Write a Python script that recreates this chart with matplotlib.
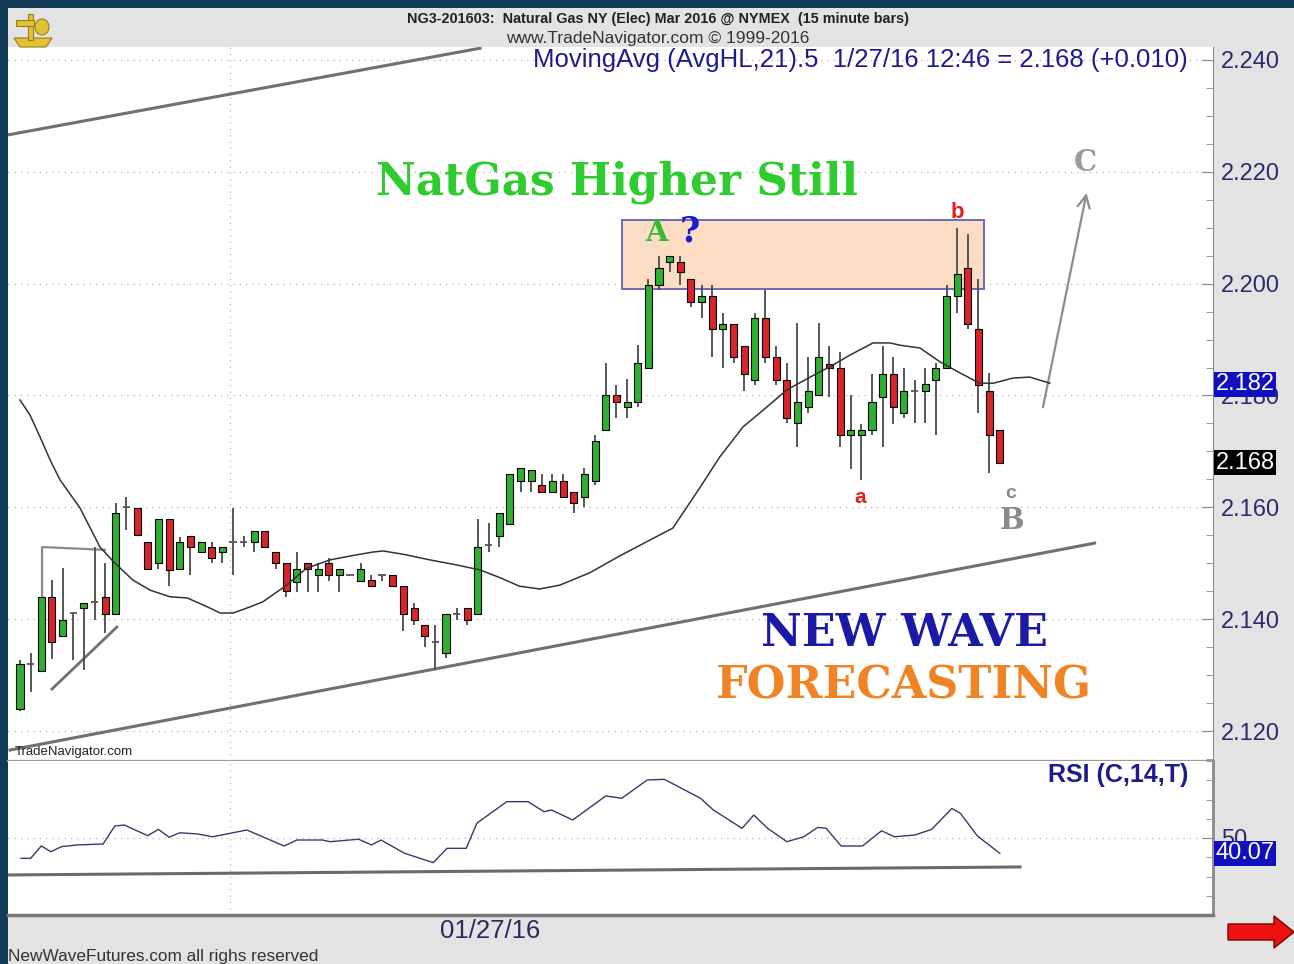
import matplotlib
matplotlib.use("Agg")
import matplotlib.pyplot as plt
import matplotlib.transforms as mtransforms
from matplotlib.patches import Rectangle, Polygon, Ellipse
from matplotlib.ticker import FixedLocator, MultipleLocator
import numpy as np

W, H = 1294, 964

# ---- 15 minute bars, NG Mar 2016 ----
opens = [2.1239, 2.1320, 2.1307, 2.1440, 2.1370, 2.1411, 2.1420, 2.1431, 2.1440, 2.1409,
         2.1600, 2.1599, 2.1538, 2.1500, 2.1579, 2.1490, 2.1549, 2.1520, 2.1529, 2.1520,
         2.1538, 2.1538, 2.1538, 2.1558, 2.1520, 2.1500, 2.1467, 2.1500, 2.1479, 2.1500,
         2.1479, 2.1479, 2.1468, 2.1470, 2.1479, 2.1479, 2.1460, 2.1420, 2.1390, 2.1359,
         2.1340, 2.1409, 2.1420, 2.1409, 2.1533, 2.1549, 2.1570, 2.1647, 2.1647, 2.1640,
         2.1628, 2.1647, 2.1628, 2.1619, 2.1647, 2.1739, 2.1800, 2.1780, 2.1789, 2.1850,
         2.1998, 2.2039, 2.2039, 2.2009, 2.1967, 2.1978, 2.1919, 2.1928, 2.1889, 2.1828,
         2.1939, 2.1869, 2.1828, 2.1751, 2.1780, 2.1800, 2.1857, 2.1850, 2.1730, 2.1730,
         2.1739, 2.1798, 2.1839, 2.1769, 2.1808, 2.1808, 2.1828, 2.1850, 2.1978, 2.2028,
         2.1919, 2.1808, 2.1739]
highs = [2.1327, 2.1340, 2.1440, 2.1470, 2.1492, 2.1411, 2.1429, 2.1529, 2.1500, 2.1608,
         2.1619, 2.1599, 2.1538, 2.1579, 2.1579, 2.1547, 2.1549, 2.1538, 2.1538, 2.1529,
         2.1599, 2.1549, 2.1558, 2.1558, 2.1520, 2.1500, 2.1520, 2.1500, 2.1500, 2.1510,
         2.1490, 2.1479, 2.1500, 2.1479, 2.1479, 2.1479, 2.1460, 2.1429, 2.1390, 2.1390,
         2.1409, 2.1420, 2.1420, 2.1579, 2.1572, 2.1590, 2.1660, 2.1670, 2.1667, 2.1660,
         2.1660, 2.1660, 2.1628, 2.1670, 2.1730, 2.1858, 2.1819, 2.1830, 2.1890, 2.2009,
         2.2050, 2.2050, 2.2050, 2.2009, 2.1998, 2.1998, 2.1948, 2.1928, 2.1889, 2.1948,
         2.1989, 2.1889, 2.1858, 2.1930, 2.1869, 2.1930, 2.1889, 2.1878, 2.1800, 2.1749,
         2.1839, 2.1889, 2.1869, 2.1850, 2.1828, 2.1850, 2.1858, 2.1998, 2.2100, 2.2089,
         2.2009, 2.1840, 2.1739]
lows = [2.1235, 2.1270, 2.1307, 2.1329, 2.1370, 2.1327, 2.1309, 2.1399, 2.1375, 2.1409,
        2.1560, 2.1550, 2.1490, 2.1490, 2.1460, 2.1490, 2.1479, 2.1520, 2.1500, 2.1500,
        2.1479, 2.1529, 2.1520, 2.1529, 2.1490, 2.1440, 2.1449, 2.1449, 2.1449, 2.1468,
        2.1449, 2.1479, 2.1468, 2.1460, 2.1468, 2.1460, 2.1379, 2.1390, 2.1350, 2.1311,
        2.1330, 2.1399, 2.1390, 2.1409, 2.1520, 2.1529, 2.1570, 2.1628, 2.1628, 2.1628,
        2.1628, 2.1619, 2.1590, 2.1600, 2.1640, 2.1739, 2.1760, 2.1760, 2.1780, 2.1850,
        2.1989, 2.2020, 2.1998, 2.1958, 2.1939, 2.1869, 2.1850, 2.1858, 2.1808, 2.1819,
        2.1858, 2.1819, 2.1751, 2.1708, 2.1769, 2.1800, 2.1798, 2.1708, 2.1669, 2.1649,
        2.1730, 2.1708, 2.1749, 2.1760, 2.1751, 2.1751, 2.1730, 2.1850, 2.1948, 2.1919,
        2.1769, 2.1662, 2.1680]
closes = [2.1320, 2.1320, 2.1440, 2.1359, 2.1399, 2.1411, 2.1429, 2.1431, 2.1409, 2.1590,
          2.1600, 2.1550, 2.1490, 2.1579, 2.1488, 2.1538, 2.1529, 2.1538, 2.1510, 2.1529,
          2.1538, 2.1538, 2.1558, 2.1529, 2.1500, 2.1450, 2.1490, 2.1490, 2.1490, 2.1479,
          2.1490, 2.1479, 2.1490, 2.1460, 2.1479, 2.1460, 2.1409, 2.1399, 2.1370, 2.1359,
          2.1409, 2.1409, 2.1399, 2.1529, 2.1533, 2.1590, 2.1660, 2.1670, 2.1667, 2.1628,
          2.1647, 2.1619, 2.1608, 2.1660, 2.1719, 2.1800, 2.1789, 2.1789, 2.1858, 2.1998,
          2.2028, 2.2050, 2.2020, 2.1967, 2.1978, 2.1919, 2.1928, 2.1869, 2.1839, 2.1939,
          2.1869, 2.1828, 2.1760, 2.1789, 2.1808, 2.1869, 2.1850, 2.1730, 2.1739, 2.1739,
          2.1789, 2.1839, 2.1780, 2.1808, 2.1808, 2.1820, 2.1850, 2.1978, 2.2018, 2.1928,
          2.1819, 2.1730, 2.1680]

# MovingAvg (AvgHL,21) shifted 5 bars
ma_bar = [0, 0.94, 1.88, 2.82, 3.76, 5.63, 7.51, 8.92, 10.6, 12.2, 14.1, 15.7, 17.6, 18.8,
          20.0, 21.6, 22.8, 24.9, 26.9, 29.1, 31.0, 33.1, 34.1, 36.0, 38.5, 41.0, 43.2,
          45.1, 46.9, 48.8, 50.7, 53.5, 56.3, 59.2, 61.3, 63.8, 65.7, 67.9, 70.1, 72.0,
          74.2, 76.3, 77.9, 80.1, 81.7, 82.6, 84.5, 86.4, 88.3, 90.1, 91.4, 93.2, 94.8, 96.7]
ma_val = [2.1792, 2.1765, 2.1726, 2.1685, 2.1649, 2.1599, 2.1529, 2.1500, 2.1470, 2.1452,
          2.1440, 2.1438, 2.1422, 2.1411, 2.1411, 2.1422, 2.1431, 2.1459, 2.1491, 2.1506,
          2.1513, 2.1520, 2.1522, 2.1516, 2.1506, 2.1497, 2.1488, 2.1474, 2.1459, 2.1454,
          2.1461, 2.1483, 2.1513, 2.1542, 2.1563, 2.1634, 2.1690, 2.1744, 2.1779, 2.1810,
          2.1833, 2.1854, 2.1872, 2.1894, 2.1894, 2.1890, 2.1885, 2.1860, 2.1840, 2.1822,
          2.1822, 2.1831, 2.1833, 2.1822]

# RSI (C,14,T)
rsi_bar = [0.1, 1.0, 2.0, 2.9, 3.9, 5.4, 7.8, 8.9, 9.8, 12.0, 13.0, 14.0, 15.0, 16.7,
           18.1, 19.4, 21.3, 24.8, 26.0, 28.4, 29.1, 31.8, 33.0, 33.9, 36.1, 38.8, 40.1,
           41.9, 42.9, 45.7, 47.7, 49.2, 49.9, 51.9, 55.0, 56.5, 58.9, 60.5, 62.4, 63.9,
           65.1, 67.8, 68.9, 70.2, 72.0, 73.6, 74.9, 75.7, 77.1, 79.1, 80.9, 82.1, 84.0,
           85.6, 87.5, 88.3, 89.9, 92.0]
rsi_val = [36.8, 36.8, 44.8, 41.1, 44.4, 45.5, 46.1, 57.8, 58.4, 51.5, 55.6, 50.5, 53.4,
           52.6, 50.8, 52.6, 55.2, 44.8, 48.7, 48.7, 47.6, 49.2, 45.5, 48.7, 40.1, 34.0,
           43.3, 43.3, 59.6, 73.6, 73.6, 67.1, 68.2, 61.7, 77.3, 75.8, 87.7, 88.1, 81.2,
           75.8, 68.2, 56.3, 64.9, 56.3, 47.6, 50.8, 56.9, 56.3, 44.8, 44.8, 54.7, 50.8,
           51.9, 55.6, 69.2, 66.0, 51.3, 40.07]

price_ticks = [2.120, 2.140, 2.160, 2.180, 2.200, 2.220, 2.240]
last_price = 2.168
last_ma = 2.182
last_rsi = 40.07
date_label = "01/27/16"


def fx(px):
    return px / W


def fy(py):
    return 1 - py / H


plt.rcParams['font.family'] = ['Liberation Sans', 'DejaVu Sans']

fig = plt.figure(figsize=(W / 100, H / 100), dpi=100, facecolor='#103a55')
fig.patches.append(Rectangle((fx(8), 0), 1 - fx(8), fy(8), transform=fig.transFigure,
                             fc='#e3e3e3', ec='none', zorder=-5))

ax = fig.add_axes([fx(8), fy(761), fx(1213) - fx(8), fy(47) - fy(761)])
ax2 = fig.add_axes([fx(8), fy(915), fx(1213) - fx(8), fy(761) - fy(915)], sharex=ax)
ax.set_zorder(2)
ax2.set_zorder(2)

xlo, xhi = (8 - 20) / 10.65, (1213 - 20) / 10.65
ax.set_xlim(xlo, xhi)
ax.set_ylim(2.11464, 2.24232)
ax2.set_ylim(0, 100)

# ---- candles ----
x = np.arange(len(opens))
o = np.array(opens)
c = np.array(closes)
h = np.array(highs)
l = np.array(lows)
up = c > o
dn = c < o
flat = c == o
ax.vlines(x, l, h, color='#4a4a4a', lw=1.3, zorder=3)
ax.bar(x[up], (c - o)[up], bottom=o[up], width=0.66, color='#2fb02f',
       edgecolor='black', lw=0.8, zorder=4)
ax.bar(x[dn], (o - c)[dn], bottom=c[dn], width=0.66, color='#d8252a',
       edgecolor='black', lw=0.8, zorder=4)
ax.hlines(o[flat], x[flat] - 0.35, x[flat] + 0.35, color='#555555', lw=1.3, zorder=4)

ax.plot(ma_bar, ma_val, color='#333333', lw=1.1, zorder=5)

# box, trendlines, flag, arrow
ax.add_patch(Rectangle((56.5, 2.1991), 34.0, 0.0123, fc='#fcdcc2', ec='#6a6ab8',
                       lw=1.4, zorder=1))
ax.plot([-0.94, 100.9], [2.1166, 2.1536], color='#707070', lw=2.2, zorder=2)
ax.plot([-1.13, 43.2], [2.2266, 2.2421], color='#707070', lw=2.2, zorder=2)
ax.plot([2.07, 2.07, 7.98], [2.1440, 2.1529, 2.1524], color='#8a8a8a', lw=1.6, zorder=2)
ax.plot([3.0, 9.1], [2.1275, 2.1386], color='#707070', lw=2.0, zorder=2)
ax.annotate('', xy=(100.2, 2.2167), xytext=(96.0, 2.1774),
            arrowprops=dict(arrowstyle='->', color='#8c8c8c', lw=1.6, mutation_scale=22))

# grids
dots = (0, (1, 4))
for t in price_ticks:
    ax.axhline(t, color='#b0b0b0', lw=0.9, ls=dots, zorder=0)
ax2.axhline(50, color='#b0b0b0', lw=0.9, ls=dots, zorder=0)
for a in (ax, ax2):
    a.axvline(19.7, color='#b0b0b0', lw=0.9, ls=dots, zorder=0)

# axis styling
for a in (ax, ax2):
    a.set_facecolor('white')
    a.spines['left'].set_visible(False)
    a.spines['top'].set_visible(False)
    a.spines['right'].set_color('#8a8a8a')
    a.spines['bottom'].set_color('#9a9a9a')
    a.spines['bottom'].set_linewidth(1.6)
    a.yaxis.tick_right()
    a.tick_params(axis='x', bottom=False, labelbottom=False)
    a.tick_params(axis='y', which='major', direction='in', length=8, pad=6,
                  labelsize=17, labelcolor='#2b2b6e', color='#8a8a8a')
    a.tick_params(axis='y', which='minor', direction='in', length=5, color='#8a8a8a')
ax2.spines['bottom'].set_linewidth(2.5)
ax2.spines['bottom'].set_color('#777777')
ax2.spines['right'].set_linewidth(2.0)

ax.yaxis.set_major_locator(FixedLocator(price_ticks))
ax.yaxis.set_minor_locator(MultipleLocator(0.005))
ax.yaxis.set_major_formatter(lambda v, p: f"{v:.3f}")
ax2.yaxis.set_major_locator(FixedLocator([50]))
ax2.yaxis.set_minor_locator(MultipleLocator(12.5))

# RSI
ax2.plot(rsi_bar, rsi_val, color='#3a3a6a', lw=1.0, zorder=3)
ax2.plot([-1.13, 93.9], [26.0, 31.2], color='#6a6a6a', lw=2.2, zorder=2)

# value boxes on the right scale
bt = mtransforms.blended_transform_factory(ax.transAxes, ax.transData)
ax.text(1.002, last_ma, f"{last_ma:.3f}", transform=bt, ha='left', va='center',
        color='white', fontsize=17, clip_on=False, zorder=10,
        bbox=dict(boxstyle='square,pad=0.06', fc='#1010c0', ec='none'))
ax.text(1.002, last_price, f"{last_price:.3f}", transform=bt, ha='left', va='center',
        color='white', fontsize=17, clip_on=False, zorder=10,
        bbox=dict(boxstyle='square,pad=0.06', fc='black', ec='none'))
bt2 = mtransforms.blended_transform_factory(ax2.transAxes, ax2.transData)
ax2.text(1.002, last_rsi, f"{last_rsi:.2f}", transform=bt2, ha='left', va='center',
         color='white', fontsize=17, clip_on=False, zorder=10,
         bbox=dict(boxstyle='square,pad=0.06', fc='#1010c0', ec='none'))

# annotations on the chart
serif = ['DejaVu Serif']
ax.text(56.1, 2.2181, "NatGas Higher Still", ha='center', va='center', fontsize=31.5,
        fontweight='bold', family=serif, color='#2ecc2e', zorder=6)
ax.text(59.8, 2.2092, "A", ha='center', va='center', fontsize=21, fontweight='bold',
        family=serif, color='#33bb33', zorder=6)
ax.text(62.9, 2.2094, "?", ha='center', va='center', fontsize=25, fontweight='bold',
        family=serif, color='#1a1ad0', zorder=6)
ax.text(88.0, 2.2128, "b", ha='center', va='center', fontsize=16, fontweight='bold',
        color='#dd2222', zorder=6)
ax.text(100.0, 2.2217, "C", ha='center', va='center', fontsize=21, fontweight='bold',
        family=serif, color='#9a9a9a', zorder=6)
ax.text(78.9, 2.1618, "a", ha='center', va='center', fontsize=15, fontweight='bold',
        color='#dd2222', zorder=6)
ax.text(93.0, 2.1624, "c", ha='center', va='center', fontsize=14, fontweight='bold',
        color='#8a8a8a', zorder=6)
ax.text(93.1, 2.1576, "B", ha='center', va='center', fontsize=21, fontweight='bold',
        family=serif, color='#8a8a8a', zorder=6)
ax.text(83.0, 2.1375, "NEW WAVE", ha='center', va='center', fontsize=32,
        fontweight='bold', family=serif, color='#1a1aa6', zorder=6)
ax.text(83.0, 2.1280, "FORECASTING", ha='center', va='center', fontsize=32,
        fontweight='bold', family=serif, color='#f08424', zorder=6)
ax.text(0.006, 0.013, "TradeNavigator.com", transform=ax.transAxes, ha='left',
        va='center', fontsize=9.5, color='#222222', zorder=6)

# header / footer texts
fig.text(fx(658), fy(19), "NG3-201603:  Natural Gas NY (Elec) Mar 2016 @ NYMEX  (15 minute bars)",
         ha='center', va='center', fontsize=10.4, fontweight='bold', color='#222222')
fig.text(fx(658), fy(38), "www.TradeNavigator.com \u00a9 1999-2016", ha='center',
         va='center', fontsize=12.5, color='#333333')
fig.text(fx(1188), fy(60), "MovingAvg (AvgHL,21).5  1/27/16 12:46 = 2.168 (+0.010)",
         ha='right', va='center', fontsize=18.5, color='#1c1c8c', zorder=10)
fig.text(fx(1188), fy(775), "RSI (C,14,T)", ha='right', va='center', fontsize=18,
         fontweight='bold', color='#1c1c8c', zorder=10)
fig.text(fx(490), fy(931), date_label, ha='center', va='center', fontsize=18.5,
         color='#2a2a60')
fig.text(fx(8), fy(956), "NewWaveFutures.com all righs reserved", ha='left',
         va='center', fontsize=12.4, color='#333333')

# red arrow bottom right
arrow_px = [(1228, 924), (1274, 924), (1274, 916), (1294, 932), (1274, 948),
            (1274, 940), (1228, 940)]
fig.patches.append(Polygon([(fx(px), fy(py)) for px, py in arrow_px], closed=True,
                           transform=fig.transFigure, fc='#ee1111', ec='#7a0000',
                           lw=1.0, zorder=5))

# little gold logo top-left
gold = '#e2c234'
edge = '#9c7d10'
logo = [[(14, 38), (52, 38), (46, 47), (20, 47)],
        [(28, 14), (33, 14), (33, 40), (28, 40)],
        [(16, 20), (34, 20), (34, 26), (16, 26)]]
for pts in logo:
    fig.patches.append(Polygon([(fx(px), fy(py)) for px, py in pts], closed=True,
                               transform=fig.transFigure, fc=gold, ec=edge, lw=0.8,
                               zorder=5))
fig.patches.append(Ellipse((fx(42), fy(27)), 14 / W, 16 / H, transform=fig.transFigure,
                           fc=gold, ec=edge, lw=0.8, zorder=5))

fig.savefig("out.png", dpi=100, facecolor=fig.get_facecolor())
